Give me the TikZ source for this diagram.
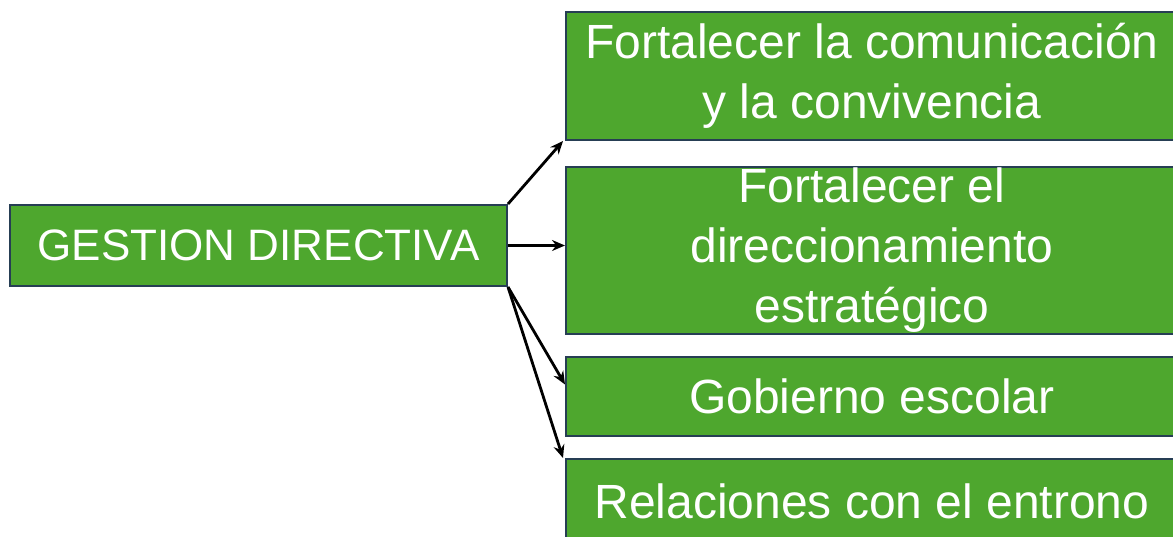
\documentclass[tikz,border=0pt]{standalone}
\usepackage{fontspec}
\setmainfont{Liberation Sans}
\usetikzlibrary{arrows.meta}
\definecolor{boxgreen}{RGB}{78,167,46}
\definecolor{boxedge}{RGB}{38,62,84}
\tikzset{
  gbox/.style={draw=boxedge, line width=2pt, fill=boxgreen, text=white,
    inner sep=0pt, align=center, minimum width=612pt},
  link/.style={-{Stealth[length=13pt,width=11pt]}, line width=2.8pt, black}
}
\begin{document}
\begin{tikzpicture}[x=1pt,y=1pt]
\useasboundingbox (0,0) rectangle (1173,-536);
\clip (0,0) rectangle (1173,-536);

% Main box
\node[gbox, minimum width=497pt, minimum height=81pt, font=\fontsize{44}{52}\selectfont] (gd) at (258.5,-245.5) {GESTION DIRECTIVA};

% Right boxes
\node[gbox, minimum height=128pt, font=\fontsize{48}{60}\selectfont] (f1) at (872,-76) {Fortalecer la comunicación\\y la convivencia};
\node[gbox, minimum height=167pt, font=\fontsize{48}{60}\selectfont] (f2) at (872,-250.5) {Fortalecer el\\direccionamiento\\estratégico};
\node[gbox, minimum height=79pt, font=\fontsize{48}{60}\selectfont] (gob) at (872,-396.5) {Gobierno escolar};
\node[gbox, minimum height=84pt, font=\fontsize{48}{60}\selectfont] (rel) at (872,-501) {Relaciones con el entrono};

% Arrows
\draw[link] (gd.north east) -- ([xshift=-2pt]f1.south west);
\draw[link] (gd.east) -- (gd.east -| f2.west);
\draw[link] (gd.south east) -- ([yshift=12pt]gob.west);
\draw[link] (gd.south east) -- ([xshift=-2pt]rel.north west);
\end{tikzpicture}
\end{document}
